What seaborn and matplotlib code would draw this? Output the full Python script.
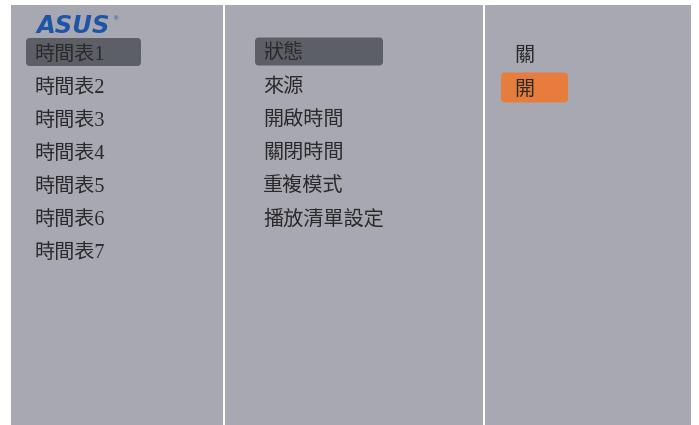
"""Schedule OSD menu (ASUS signage), redrawn with seaborn/matplotlib."""

import matplotlib

matplotlib.use("Agg")
import matplotlib.pyplot as plt
import seaborn as sns
from matplotlib.patches import FancyBboxPatch, Rectangle

# menu content
schedules = ["時間表1", "時間表2", "時間表3", "時間表4", "時間表5", "時間表6", "時間表7"]
settings = ["狀態", "來源", "開啟時間", "關閉時間", "重複模式", "播放清單設定"]
options = ["關", "開"]
selected_schedule = 0
selected_setting = 0
selected_option = 1

sns.set_theme(style="white")
plt.rcParams["font.family"] = ["Liberation Serif", "Noto Sans CJK TC", "DejaVu Sans"]

PANEL = "#a8a8b2"
DARK = "#5d5f67"
ORANGE = "#e77d3d"
TEXT = "#2a2a2a"

fig = plt.figure(figsize=(6.99, 4.25), dpi=100, facecolor="white")
ax = fig.add_axes([0, 0, 1, 1])
ax.set_xlim(0, 699)
ax.set_ylim(425, 0)
ax.axis("off")

# three columns: (left, right)
columns = [(11, 223), (225, 483), (485, 691)]
for x0, x1 in columns:
    ax.add_patch(Rectangle((x0, 5), x1 - x0, 425, color=PANEL, lw=0))


def draw_column(items, x_text, y0, step, sel, box, sel_color):
    bx0, bx1, bh = box
    for i, label in enumerate(items):
        y = y0 + i * step
        if i == sel:
            ax.add_patch(FancyBboxPatch(
                (bx0, y - bh / 2), bx1 - bx0, bh,
                boxstyle="round,pad=0,rounding_size=4",
                color=sel_color, lw=0))
        # glyphs sit a little high with va="center"
        ax.text(x_text, y + 3, label, fontsize=14.5, fontweight="light",
                color=TEXT, ha="left", va="center")


draw_column(schedules, 35, 52, 33, selected_schedule, (26, 141, 28), DARK)
draw_column(settings, 263, 51.5, 33, selected_setting, (255, 383, 28), DARK)
draw_column(options, 514, 53.5, 34, selected_option, (501, 568, 30), ORANGE)

# logo
ax.text(37, 26, "ASUS", fontsize=17.5, fontweight="heavy", style="italic",
        color="#1f55a6", family="DejaVu Sans", ha="left", va="center")
ax.text(112, 19, "®", fontsize=4.5, color="#1f55a6", family="DejaVu Sans",
        ha="left", va="center")

fig.savefig("out.png", dpi=100, facecolor="white")
